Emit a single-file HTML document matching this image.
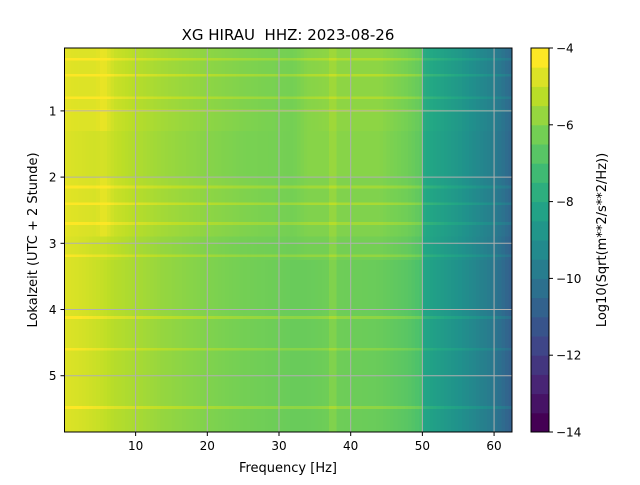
<!DOCTYPE html>
<html><head><meta charset="utf-8"><style>
body{margin:0;background:#fff;font-family:"Liberation Sans","DejaVu Sans",sans-serif}
svg text{font-family:"DejaVu Sans","Liberation Sans",sans-serif;fill:#000}
</style></head><body>
<svg id="chart" width="640" height="480" xmlns="http://www.w3.org/2000/svg">
<rect width="640" height="480" fill="#fff"/>
<g id="cells" shape-rendering="crispEdges"></g>
<g id="grid"></g>
<rect x="64.5" y="48" width="447.5" height="384" fill="none" stroke="#000" stroke-width="1"/>
<g id="axes"></g>
<g id="cbar"></g>
<text x="288" y="40" font-size="15" text-anchor="middle">XG HIRAU&#160; HHZ: 2023-08-26</text>
<text x="288" y="472" font-size="13" text-anchor="middle">Frequency [Hz]</text>
<text transform="translate(37,240) rotate(-90)" font-size="13" text-anchor="middle">Lokalzeit (UTC + 2 Stunde)</text>
<text transform="translate(606,240) rotate(-90)" font-size="13" text-anchor="middle">Log10(Sqrt(m**2/s**2/Hz))</text>
</svg>
<script>
// ---- data ----
const freqNodes = [0,2,4.5,5.5,7,10,14,20,25,32,34,37,37.5,38,44,48,49.8,50.2,55,60,62.5];
const segStarts = [0.05,1.3,2.0,2.9,3.25];
const segEnds   = [1.3,2.0,2.9,3.25,5.85];
const seg0 = [-4.4,-4.5,-4.5,-4.25,-4.8,-5.1,-5.4,-5.7,-5.9,-6.1,-5.8,-5.7,-5.2,-5.7,-5.7,-6.1,-6.4,-7.8,-8.6,-9.7,-10.6];
const seg1 = [-4.5,-4.6,-4.7,-4.6,-4.9,-5.2,-5.5,-5.8,-6.0,-6.1,-5.8,-5.8,-5.3,-5.8,-5.8,-6.2,-6.5,-7.9,-8.7,-9.8,-10.7];
const seg2 = [-4.4,-4.5,-4.6,-4.3,-4.8,-5.1,-5.4,-5.7,-5.9,-6.1,-5.9,-5.9,-5.3,-5.9,-5.9,-6.2,-6.5,-7.9,-8.7,-9.8,-10.7];
const seg3 = [-4.5,-4.6,-4.8,-4.8,-5.0,-5.3,-5.6,-5.9,-6.1,-6.2,-6.1,-6.1,-5.5,-6.1,-6.1,-6.4,-6.7,-8.0,-8.8,-9.9,-10.9];
const seg4 = [-4.5,-4.6,-4.8,-4.9,-5.1,-5.3,-5.6,-5.9,-6.1,-6.3,-6.3,-6.2,-5.6,-6.2,-6.3,-6.6,-6.9,-8.1,-8.9,-10.0,-11.0];
const segValues = [seg0,seg1,seg2,seg3,seg4];
const lineTimes  = [0.22,0.46,0.8,1.0,2.15,2.4,2.7,3.19,4.12,4.6,5.48];
const lineBoosts = [0.5,0.6,0.5,0.4,0.5,0.6,0.5,0.5,0.6,0.5,0.6];
const yTicks = [1,2,3,4,5];
const xTicks = [10,20,30,40,50,60];
const cbTicks = [-4,-6,-8,-10,-12,-14];
// ---- scales ----
const X0=64.5,X1=512,Y0=48,Y1=432,F0=0.08,F1=62.5,T0=0.05,T1=5.85;
const xs=f=>X0+(f-F0)/(F1-F0)*(X1-X0);
const ys=t=>Y0+(t-T0)/(T1-T0)*(Y1-Y0);
const vir=[[68,1,84],[72,35,116],[64,67,135],[52,94,141],[41,120,142],[32,144,140],[34,167,132],[68,190,112],[121,209,81],[189,222,38],[253,231,37]];
function vcol(p){p=Math.max(0,Math.min(1,p));const s=p*10,i=Math.min(9,Math.floor(s)),r=s-i;const a=vir[i],b=vir[i+1];return `rgb(${a.map((c,k)=>Math.round(c+(b[k]-c)*r)).join(',')})`;}
const VMIN=-14,VMAX=-4,NL=20;
const col=v=>vcol((v-VMIN)/(VMAX-VMIN));
function interp(vals,f){
  if(f<=freqNodes[0])return vals[0];
  for(let k=0;k<freqNodes.length-1;k++){if(f<=freqNodes[k+1]){const r=(f-freqNodes[k])/(freqNodes[k+1]-freqNodes[k]);return vals[k]+(vals[k+1]-vals[k])*r;}}
  return vals[vals.length-1];
}
const NS='http://www.w3.org/2000/svg';
function mk(tag,attrs,parent){const e=document.createElementNS(NS,tag);for(const k in attrs)e.setAttribute(k,attrs[k]);parent.appendChild(e);return e;}
// ---- heatmap ----
const cells=document.getElementById('cells');
const LH=0.02, DF=0.5;
for(let s=0;s<segStarts.length;s++){
  const pieces=[];
  lineTimes.forEach((lt,k)=>{if(lt-LH>segStarts[s]&&lt+LH<segEnds[s])pieces.push([lt-LH,lt+LH,lineBoosts[k]]);});
  pieces.sort((a,b)=>a[0]-b[0]);
  const rows=[];let cur=segStarts[s];
  pieces.forEach(p=>{rows.push([cur,p[0],0]);rows.push(p);cur=p[1];});
  rows.push([cur,segEnds[s],0]);
  rows.forEach(rw=>{
    for(let f=0;f<F1;f+=DF){
      const fa=Math.max(F0,f),fb=Math.min(F1,f+DF);
      const v=interp(segValues[s],f+DF/2)+rw[2];
      const r=mk('rect',{x:xs(fa).toFixed(2),y:ys(rw[0]).toFixed(2),width:(xs(fb)-xs(fa)+0.5).toFixed(2),height:(ys(rw[1])-ys(rw[0])+0.5).toFixed(2),fill:col(v)},cells);
      
      
    }
  });
}
// ---- grid & ticks ----
const grid=document.getElementById('grid'),axes=document.getElementById('axes');
xTicks.forEach(f=>{
  const g=mk('line',{x1:xs(f),x2:xs(f),y1:Y0,y2:Y1,stroke:'#b0b0b0','stroke-width':1},grid);
  
  
  mk('line',{x1:xs(f),x2:xs(f),y1:Y1,y2:Y1+4,stroke:'#000'},axes);
  const tx=mk('text',{x:xs(f),y:Y1+18,'font-size':12,'text-anchor':'middle'},axes);tx.textContent=f;
  
  
});
yTicks.forEach(t=>{
  const g=mk('line',{x1:X0,x2:X1,y1:ys(t),y2:ys(t),stroke:'#b0b0b0','stroke-width':1},grid);
  
  
  mk('line',{x1:X0-4,x2:X0,y1:ys(t),y2:ys(t),stroke:'#000'},axes);
  const tx=mk('text',{x:X0-8,y:ys(t)+4.5,'font-size':12,'text-anchor':'end'},axes);tx.textContent=t;
  
  
});
// ---- colorbar ----
const cb=document.getElementById('cbar');const CX=531,CW=18;
const cy=v=>Y1-(v-VMIN)/(VMAX-VMIN)*(Y1-Y0);
for(let i=0;i<NL;i++){
  const va=VMIN+i*(VMAX-VMIN)/NL,vb=VMIN+(i+1)*(VMAX-VMIN)/NL;
  const r=mk('rect',{x:CX,y:cy(vb),width:CW,height:cy(va)-cy(vb)+0.5,fill:vcol(i/(NL-1))},cb);
  
  
}
mk('rect',{x:CX,y:Y0,width:CW,height:Y1-Y0,fill:'none',stroke:'#000'},cb);
cbTicks.forEach(v=>{
  mk('line',{x1:CX+CW,x2:CX+CW+4,y1:cy(v),y2:cy(v),stroke:'#000'},cb);
  const tx=mk('text',{x:CX+CW+7,y:cy(v)+4.5,'font-size':12},cb);tx.textContent='\u2212'+Math.abs(v);
  
  
});
</script>
</body></html>
